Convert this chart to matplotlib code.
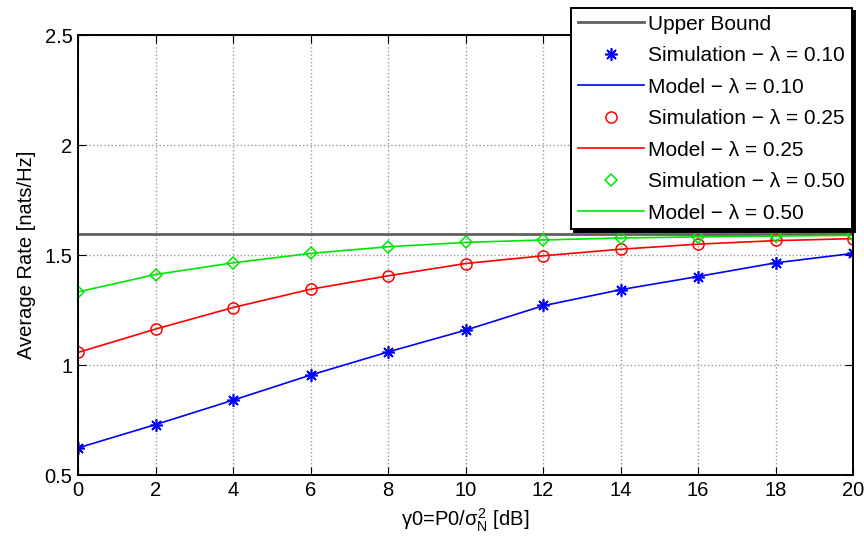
import numpy as np
from matplotlib import pyplot as plt

plt.rcParams['font.family'] = ['Liberation Sans', 'DejaVu Sans']
plt.rcParams['mathtext.fontset'] = 'custom'
plt.rcParams['mathtext.rm'] = 'Liberation Sans'
plt.rcParams['mathtext.it'] = 'Liberation Sans'
plt.rcParams['mathtext.sf'] = 'Liberation Sans'

# SNR in dB
snr_db = [0, 2, 4, 6, 8, 10, 12, 14, 16, 18, 20]

upper_bound = 1.595

# lambda = 0.10
sim_010 = [0.624, 0.730, 0.841, 0.955, 1.060, 1.159, 1.273, 1.341, 1.401, 1.465, 1.508]
model_010 = [0.624, 0.730, 0.841, 0.955, 1.060, 1.159, 1.270, 1.343, 1.403, 1.465, 1.508]
# lambda = 0.25
sim_025 = [1.058, 1.164, 1.262, 1.345, 1.406, 1.462, 1.495, 1.527, 1.550, 1.568, 1.573]
model_025 = [1.058, 1.164, 1.262, 1.345, 1.406, 1.462, 1.497, 1.527, 1.550, 1.566, 1.575]
# lambda = 0.50
sim_050 = [1.333, 1.412, 1.465, 1.508, 1.538, 1.560, 1.568, 1.580, 1.583, 1.587, 1.590]
model_050 = [1.333, 1.412, 1.465, 1.508, 1.538, 1.558, 1.569, 1.578, 1.583, 1.587, 1.590]

green = '#00e600'

fig = plt.figure(figsize=(8.64, 5.4), dpi=100)
ax = fig.add_axes([0.0903, 0.12, 0.897, 0.815])

ax.plot([0, 20], [upper_bound, upper_bound], color='#606060', lw=2, label='Upper Bound')
ax.plot(snr_db, sim_010, ls='none', marker=(8, 2, 0), ms=9, color='blue', mew=1.2,
        label='Simulation \u2212 \u03bb = 0.10')
ax.plot(snr_db, model_010, color='blue', lw=1.2, label='Model \u2212 \u03bb = 0.10')
ax.plot(snr_db, sim_025, ls='none', marker='o', ms=8, mfc='none', mec='red', mew=1.1,
        label='Simulation \u2212 \u03bb = 0.25')
ax.plot(snr_db, model_025, color='red', lw=1.2, label='Model \u2212 \u03bb = 0.25')
ax.plot(snr_db, sim_050, ls='none', marker='D', ms=6.5, mfc='none', mec=green, mew=1.1,
        label='Simulation \u2212 \u03bb = 0.50')
ax.plot(snr_db, model_050, color=green, lw=1.2, label='Model \u2212 \u03bb = 0.50')

ax.set_xlim(0, 20)
ax.set_ylim(0.5, 2.5)
ax.set_xticks(np.arange(0, 21, 2))
ax.set_yticks([0.5, 1, 1.5, 2, 2.5])
ax.set_yticklabels(['0.5', '1', '1.5', '2', '2.5'])
ax.grid(True, ls=':', color='#999999', lw=1)
ax.tick_params(direction='in', top=True, right=True, labelsize=14.5, length=6, pad=4)
for s in ax.spines.values():
    s.set_linewidth(1.4)

ax.set_xlabel(r'$\gamma$0=P0/$\sigma_N^2$ [dB]', fontsize=14.5, labelpad=5)
ax.set_ylabel('Average Rate [nats/Hz]', fontsize=14.5, labelpad=6)

leg = ax.legend(loc='upper right', bbox_to_anchor=(0.986, 0.985),
                bbox_transform=fig.transFigure, fontsize=15, fancybox=False,
                framealpha=1, edgecolor='black', borderaxespad=0,
                handlelength=3.2, handletextpad=0.2, labelspacing=0.6,
                borderpad=0.32,
                shadow={'ox': 2, 'oy': -2, 'facecolor': 'black', 'edgecolor': 'black', 'alpha': 1})
leg.get_frame().set_linewidth(1.4)

fig.savefig('out.png', dpi=100)
